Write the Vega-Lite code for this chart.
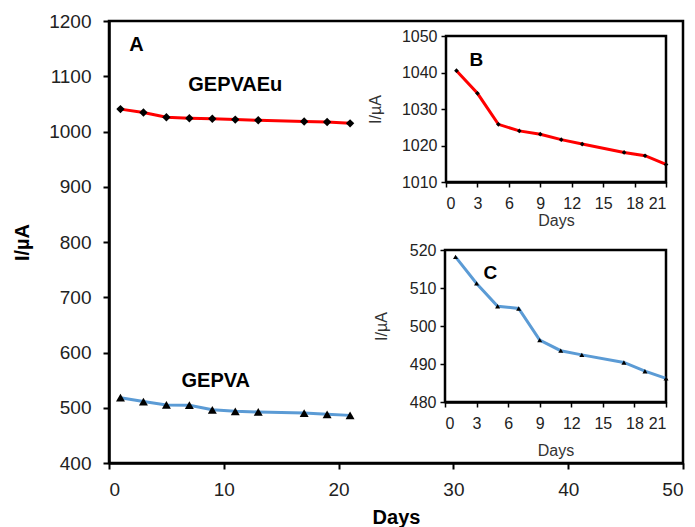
{
  "$schema": "https://vega.github.io/schema/vega-lite/v6.json",
  "width": 574,
  "height": 442,
  "autosize": "none",
  "padding": {"left": 109, "top": 21, "right": 12, "bottom": 64},
  "background": "white",
  "config": {
    "view": {"stroke": "black", "strokeWidth": 2.5},
    "font": "Liberation Sans",
    "axis": {"grid": false, "domainColor": "black", "tickColor": "black", "labelColor": "#222222", "titleColor": "black"}
  },
  "datasets": {
    "eu": [
      {"day": 1, "current": 1040.5},
      {"day": 3, "current": 1034.3},
      {"day": 5, "current": 1025.8},
      {"day": 7, "current": 1024.0},
      {"day": 9, "current": 1023.1},
      {"day": 11, "current": 1021.6},
      {"day": 13, "current": 1020.4},
      {"day": 17, "current": 1018.1},
      {"day": 19, "current": 1017.2},
      {"day": 21, "current": 1014.8}
    ],
    "va": [
      {"day": 1, "current": 518.2},
      {"day": 3, "current": 511.2},
      {"day": 5, "current": 505.2},
      {"day": 7, "current": 504.6},
      {"day": 9, "current": 496.3},
      {"day": 11, "current": 493.5},
      {"day": 13, "current": 492.4},
      {"day": 17, "current": 490.4},
      {"day": 19, "current": 488.1},
      {"day": 21, "current": 486.2}
    ]
  },
  "layer": [
    {
      "layer": [
        {
          "encoding": {
            "x": {"field": "day", "type": "quantitative", "scale": {"domain": [0, 50], "nice": false},
              "axis": {"orient": "bottom", "values": [0, 10, 20, 30, 40, 50], "format": "d", "title": "Days", "titleFontSize": 20, "titleFontWeight": "bold", "labelFontSize": 19, "domainWidth": 2.5, "tickWidth": 2, "tickSize": 6, "labelPadding": 11, "titlePadding": 8}},
            "y": {"field": "current", "type": "quantitative", "scale": {"domain": [400, 1200], "nice": false, "zero": false},
              "axis": {"orient": "left", "values": [400, 500, 600, 700, 800, 900, 1000, 1100, 1200], "format": "d", "title": "I/µA", "titleFontSize": 20, "titleFontWeight": "bold", "labelFontSize": 19, "domainWidth": 2.5, "tickWidth": 2, "tickSize": 6, "labelPadding": 12, "titlePadding": 16}}
          },
          "layer": [
            {"data": {"name": "eu"}, "mark": {"type": "line", "color": "#FF0000", "strokeWidth": 3}},
            {"data": {"name": "eu"}, "mark": {"type": "point", "shape": "diamond", "filled": true, "color": "black", "size": 70, "opacity": 1}},
            {"data": {"name": "va"}, "mark": {"type": "line", "color": "#5B9BD5", "strokeWidth": 3}},
            {"data": {"name": "va"}, "mark": {"type": "point", "shape": "triangle-up", "filled": true, "color": "black", "size": 80, "opacity": 1}}
          ]
        },
        {"data": {"values": [{"label": "A"}]}, "mark": {"type": "text", "fontSize": 20, "fontWeight": "bold", "color": "black"},
          "encoding": {"x": {"datum": 2.4}, "y": {"datum": 1157}, "text": {"field": "label"}}},
        {"data": {"values": [{"label": "GEPVAEu"}]}, "mark": {"type": "text", "fontSize": 20, "fontWeight": "bold", "color": "black"},
          "encoding": {"x": {"datum": 11.0}, "y": {"datum": 1084}, "text": {"field": "label"}}},
        {"data": {"values": [{"label": "GEPVA"}]}, "mark": {"type": "text", "fontSize": 20, "fontWeight": "bold", "color": "black"},
          "encoding": {"x": {"datum": 9.3}, "y": {"datum": 548}, "text": {"field": "label"}}}
      ]
    },
    {
      "layer": [
        {"data": {"values": [{"label": "frame"}]}, "mark": {"type": "rect", "fill": "white", "stroke": "black", "strokeWidth": 2.5},
          "encoding": {"x": {"datum": 0}, "x2": {"datum": 21}, "y": {"datum": 1010}, "y2": {"datum": 1050}}},
        {
          "encoding": {
            "x": {"field": "day", "type": "quantitative", "scale": {"domain": [0, 21], "nice": false, "range": [337, 557]},
              "axis": {"orient": "bottom", "offset": -281, "values": [0, 3, 6, 9, 12, 15, 18, 21], "format": "d", "title": "Days", "titleFontSize": 16, "titleFontWeight": "normal", "titleColor": "#333333", "labelFontSize": 16, "domainWidth": 2.5, "tickWidth": 1.5, "tickSize": 5, "labelPadding": 8, "titlePadding": 1}},
            "y": {"field": "current", "type": "quantitative", "scale": {"domain": [1010, 1050], "nice": false, "zero": false, "range": [161, 15]},
              "axis": {"orient": "left", "offset": -337, "values": [1010, 1020, 1030, 1040, 1050], "format": "d", "title": "I/µA", "titleFontSize": 16, "titleFontWeight": "normal", "titleColor": "#333333", "labelFontSize": 16, "domainWidth": 2.5, "tickWidth": 1.5, "tickSize": 5, "labelPadding": 4, "titlePadding": 18}}
          },
          "layer": [
            {"data": {"name": "eu"}, "mark": {"type": "line", "color": "#FF0000", "strokeWidth": 3}},
            {"data": {"name": "eu"}, "mark": {"type": "point", "shape": "diamond", "filled": true, "color": "black", "size": 22, "opacity": 1}}
          ]
        },
        {"data": {"values": [{"label": "B"}]}, "mark": {"type": "text", "fontSize": 19, "fontWeight": "bold", "color": "black"},
          "encoding": {"x": {"datum": 2.9}, "y": {"datum": 1043.4}, "text": {"field": "label"}}}
      ]
    },
    {
      "layer": [
        {"data": {"values": [{"label": "frame"}]}, "mark": {"type": "rect", "fill": "white", "stroke": "black", "strokeWidth": 2.5},
          "encoding": {"x": {"datum": 0}, "x2": {"datum": 21}, "y": {"datum": 480}, "y2": {"datum": 520}}},
        {
          "encoding": {
            "x": {"field": "day", "type": "quantitative", "scale": {"domain": [0, 21], "nice": false, "range": [336, 557]},
              "axis": {"orient": "bottom", "offset": -61, "values": [0, 3, 6, 9, 12, 15, 18, 21], "format": "d", "title": "Days", "titleFontSize": 16, "titleFontWeight": "normal", "titleColor": "#333333", "labelFontSize": 16, "domainWidth": 2.5, "tickWidth": 1.5, "tickSize": 5, "labelPadding": 8, "titlePadding": 11}},
            "y": {"field": "current", "type": "quantitative", "scale": {"domain": [480, 520], "nice": false, "zero": false, "range": [381, 229]},
              "axis": {"orient": "left", "offset": -336, "values": [480, 490, 500, 510, 520], "format": "d", "title": "I/µA", "titleFontSize": 16, "titleFontWeight": "normal", "titleColor": "#333333", "labelFontSize": 16, "domainWidth": 2.5, "tickWidth": 1.5, "tickSize": 5, "labelPadding": 4, "titlePadding": 20}}
          },
          "layer": [
            {"data": {"name": "va"}, "mark": {"type": "line", "color": "#5B9BD5", "strokeWidth": 3}},
            {"data": {"name": "va"}, "mark": {"type": "point", "shape": "triangle-up", "filled": true, "color": "black", "size": 25, "opacity": 1}}
          ]
        },
        {"data": {"values": [{"label": "C"}]}, "mark": {"type": "text", "fontSize": 19, "fontWeight": "bold", "color": "black"},
          "encoding": {"x": {"datum": 4.3}, "y": {"datum": 514}, "text": {"field": "label"}}}
      ]
    }
  ],
  "resolve": {"scale": {"x": "independent", "y": "independent"}, "axis": {"x": "independent", "y": "independent"}}
}
